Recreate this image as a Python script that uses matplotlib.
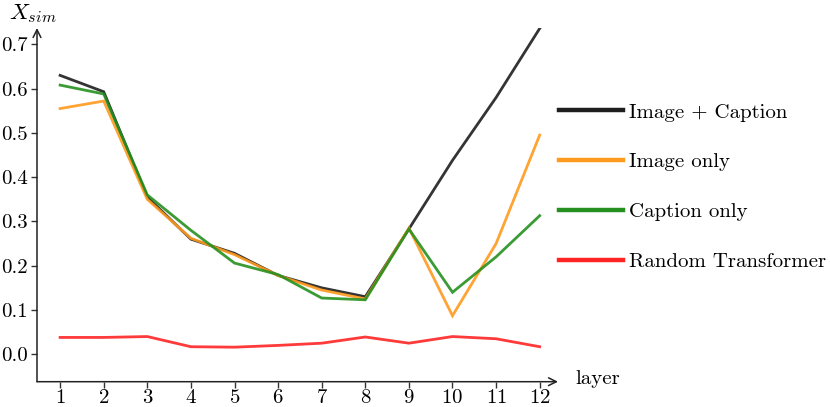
import numpy as np
import matplotlib
matplotlib.use('Agg')
import matplotlib.pyplot as plt

# data
layers = [1, 2, 3, 4, 5, 6, 7, 8, 9, 10, 11, 12]
img_caption = [0.630, 0.593, 0.355, 0.260, 0.228, 0.178, 0.150, 0.130, 0.283, 0.438, 0.580, 0.736]
img_only = [0.555, 0.572, 0.350, 0.262, 0.225, 0.178, 0.145, 0.125, 0.285, 0.087, 0.250, 0.495]
caption_only = [0.608, 0.588, 0.360, 0.280, 0.206, 0.180, 0.127, 0.123, 0.283, 0.140, 0.220, 0.313]
random_tf = [0.038, 0.038, 0.040, 0.017, 0.016, 0.020, 0.025, 0.039, 0.025, 0.040, 0.035, 0.017]
series_names = ['Image + Caption', 'Image only', 'Caption only', 'Random Transformer']
yticks = [0.0, 0.1, 0.2, 0.3, 0.4, 0.5, 0.6, 0.7]

plt.rcParams['font.family'] = 'serif'
plt.rcParams['font.serif'] = ['cmr10']
plt.rcParams['mathtext.fontset'] = 'cm'
plt.rcParams['axes.formatter.use_mathtext'] = True

fs = 15
colors = ['#1e1e1e', '#ff9a1e', '#25901f', '#ff2424']

fig = plt.figure(figsize=(8.3, 4.07), dpi=100)
ax = fig.add_axes([37/830, 1 - 381.7/407, (558-37)/830, (381.7-28)/407])

lines = []
for vals, c, name in zip([img_caption, img_only, caption_only, random_tf], colors, series_names):
    h, = ax.plot(layers, vals, color=c, lw=2.0, alpha=0.9, label=name, solid_joinstyle='miter')
    lines.append(h)

ax.set_xlim(0.47, 12.42)
ax.set_ylim(-0.062, 0.737)
ax.set_xticks(layers)
ax.set_yticks(yticks)
ax.set_yticklabels(['%.1f' % v for v in yticks])
ax.tick_params(labelsize=fs, direction='out', length=4, width=1, color='#333333', pad=2.5)
ax.tick_params(axis='x', pad=1.5)
for s in ['top', 'right', 'left', 'bottom']:
    ax.spines[s].set_visible(False)

# axis lines with open arrow heads
arrow = dict(arrowstyle='->', color='#222222', lw=1.1, shrinkA=0, shrinkB=0, mutation_scale=14)
ax.annotate('', xy=(1, 0), xytext=(0, 0), xycoords='axes fraction', textcoords='axes fraction', arrowprops=arrow)
ax.annotate('', xy=(0, 1), xytext=(0, 0), xycoords='axes fraction', textcoords='axes fraction', arrowprops=arrow)

fig.text(9/830, 1 - 14/407, r'$X_{sim}$', fontsize=16.5, va='center', ha='left')
fig.text(575/830, 1 - 379/407, 'layer', fontsize=fs, va='center', ha='left')

leg = fig.legend(handles=lines, loc='upper left', bbox_to_anchor=(559/830, 1 - 103/407),
                 frameon=False, fontsize=15, handlelength=3.05, handletextpad=0.3,
                 labelspacing=1.5, borderaxespad=0, borderpad=0)
for lh in leg.legend_handles:
    lh.set_linewidth(3.2)
    lh.set_alpha(1)

fig.savefig('out.png', dpi=100)
